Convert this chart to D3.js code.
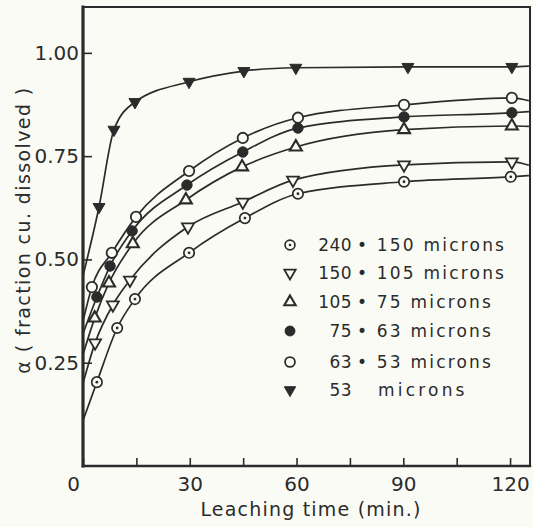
<!DOCTYPE html>
<html>
<head>
<meta charset="utf-8">
<script src="https://cdn.jsdelivr.net/npm/d3@7"></script>
<style>
  html, body { margin: 0; padding: 0; background: #fbfbf6; }
  svg { display: block; }
  text { font-family: "DejaVu Sans", sans-serif; fill: #2b2b2b; }
</style>
</head>
<body>
<svg id="chart" width="533" height="527"></svg>
<script>
// Leaching of copper: fraction dissolved vs. time for six particle-size fractions
const sizeUpper = [240, 150, 105, 75, 63, 53];
const sizeLower = [150, 105, 75, 63, 53, null];
const markerKinds = ["dotCircle", "triDownOpen", "triUpOpen", "circleFilled", "circleOpen", "triDownFilled"];

// leaching time (min) and fraction dissolved for each size fraction
const time_240_150 = [3.9, 9.6, 14.6, 29.8, 45.5, 60.4, 90.2, 120.2];
const alpha_240_150 = [0.203, 0.334, 0.404, 0.516, 0.600, 0.659, 0.688, 0.700];
const time_150_105 = [3.4, 8.4, 13.2, 29.5, 44.9, 59.0, 90.2, 120.5];
const alpha_150_105 = [0.298, 0.390, 0.450, 0.579, 0.639, 0.692, 0.729, 0.736];
const time_105_75 = [3.3, 7.3, 14.0, 28.9, 44.7, 59.8, 90.2, 120.5];
const alpha_105_75 = [0.358, 0.443, 0.538, 0.644, 0.724, 0.772, 0.814, 0.823];
const time_75_63 = [3.9, 7.6, 13.8, 29.2, 44.9, 60.4, 90.2, 120.5];
const alpha_75_63 = [0.409, 0.484, 0.569, 0.680, 0.760, 0.818, 0.845, 0.855];
const time_63_53 = [2.5, 8.1, 14.9, 29.8, 44.9, 60.4, 90.2, 120.5];
const alpha_63_53 = [0.433, 0.516, 0.603, 0.714, 0.794, 0.843, 0.874, 0.891];
const time_53 = [4.5, 8.7, 14.6, 29.8, 45.2, 59.8, 91.3, 120.5];
const alpha_53 = [0.627, 0.814, 0.881, 0.930, 0.956, 0.964, 0.966, 0.966];

// where each fitted curve leaves the ordinate and where it meets the right frame
const curveStartAlpha = [0.11, 0.20, 0.27, 0.32, 0.35, 0.46];
const curveEndAlpha = [0.703, 0.728, 0.822, 0.858, 0.884, 0.968];

const xTicks = [0, 15, 30, 45, 60, 75, 90, 105, 120];
const xTickLabels = [0, 30, 60, 90, 120];
const yTicks = [0.25, 0.50, 0.75, 1.00];

const times = [time_240_150, time_150_105, time_105_75, time_75_63, time_63_53, time_53];
const alphas = [alpha_240_150, alpha_150_105, alpha_105_75, alpha_75_63, alpha_63_53, alpha_53];

const series = sizeUpper.map((u, i) => ({
  upper: u,
  lower: sizeLower[i],
  kind: markerKinds[i],
  points: times[i].map((t, j) => ({ t, a: alphas[i][j] })),
  start: curveStartAlpha[i],
  end: curveEndAlpha[i]
}));

const ink = "#2b2b2b";
const paper = "#fbfbf6";
const svg = d3.select("#chart");
svg.append("rect").attr("width", 533).attr("height", 527).attr("fill", paper);

const plotLeft = 83, plotRight = 530, plotTop = 7, plotBottom = 466;
const xMax = 125.6, yMax = 1.111;
const x = d3.scaleLinear().domain([0, xMax]).range([plotLeft, plotRight]);
const y = d3.scaleLinear().domain([0, yMax]).range([plotBottom, plotTop]);

// axes with inward ticks
const xAxis = d3.axisBottom(x)
  .tickValues(xTicks)
  .tickSizeInner(-8).tickSizeOuter(0).tickPadding(11)
  .tickFormat(d => xTickLabels.includes(d) ? d : "");
const gx = svg.append("g").attr("transform", `translate(0,${plotBottom})`).call(xAxis);
gx.select(".domain").remove();
gx.selectAll(".tick line").attr("stroke", ink).attr("stroke-width", 1.6);
gx.selectAll(".tick text").attr("font-size", 20).attr("fill", ink).attr("font-family", "DejaVu Sans")
  .attr("dx", d => d === 0 ? -10 : 0);

const yAxis = d3.axisLeft(y)
  .tickValues(yTicks)
  .tickSizeInner(-9).tickSizeOuter(0).tickPadding(4)
  .tickFormat(d3.format(".2f"));
const gy = svg.append("g").attr("transform", `translate(${plotLeft},0)`).call(yAxis);
gy.select(".domain").remove();
gy.selectAll(".tick line").attr("stroke", ink).attr("stroke-width", 1.6);
gy.selectAll(".tick text").attr("font-size", 20).attr("fill", ink).attr("font-family", "DejaVu Sans");

// frame
const frame = svg.append("g").attr("stroke", ink).attr("stroke-linecap", "square");
frame.append("line").attr("x1", plotLeft).attr("x2", plotLeft).attr("y1", plotTop).attr("y2", plotBottom).attr("stroke-width", 3.2);
frame.append("line").attr("x1", plotLeft).attr("x2", plotRight).attr("y1", plotBottom).attr("y2", plotBottom).attr("stroke-width", 2.4);
frame.append("line").attr("x1", plotLeft).attr("x2", plotRight).attr("y1", plotTop).attr("y2", plotTop).attr("stroke-width", 2);
frame.append("line").attr("x1", plotRight).attr("x2", plotRight).attr("y1", plotTop).attr("y2", plotBottom).attr("stroke-width", 2);

// axis titles
svg.append("text")
  .attr("x", 311).attr("y", 516)
  .attr("text-anchor", "middle").attr("font-size", 19).attr("letter-spacing", 1.2)
  .text("Leaching time (min.)");
svg.append("text")
  .attr("transform", "translate(30,230) rotate(-90)")
  .attr("text-anchor", "middle").attr("font-size", 19).attr("letter-spacing", 1.4)
  .text("α ( fraction cu. dissolved )");

// curves
const line = d3.line().x(d => x(d.t)).y(d => y(d.a)).curve(d3.curveMonotoneX);
const plot = svg.append("g");
series.forEach(s => {
  const pts = [{ t: 0, a: s.start }, ...s.points, { t: xMax - 0.3, a: s.end }];
  plot.append("path").datum(pts).attr("d", line)
    .attr("fill", "none").attr("stroke", ink).attr("stroke-width", 1.7);
});

// markers
const triArea = 62, circR = 5.2;
function drawMarker(g, kind, cx, cy, scale = 1) {
  const m = g.append("g").attr("transform", `translate(${cx},${cy})`);
  const tri = d3.symbol().type(d3.symbolTriangle).size(triArea * scale * scale);
  if (kind === "dotCircle") {
    m.append("circle").attr("r", circR * scale).attr("fill", paper).attr("stroke", ink).attr("stroke-width", 1.7);
    m.append("circle").attr("r", 1.4 * scale).attr("fill", ink);
  } else if (kind === "circleOpen") {
    m.append("circle").attr("r", circR * scale).attr("fill", paper).attr("stroke", ink).attr("stroke-width", 1.8);
  } else if (kind === "circleFilled") {
    m.append("circle").attr("r", circR * scale).attr("fill", ink).attr("stroke", ink).attr("stroke-width", 1);
  } else if (kind === "triUpOpen") {
    m.append("path").attr("d", tri()).attr("fill", paper).attr("stroke", ink).attr("stroke-width", 2.1);
  } else if (kind === "triDownOpen") {
    m.append("path").attr("d", tri()).attr("transform", "rotate(180)").attr("fill", paper).attr("stroke", ink).attr("stroke-width", 1.8);
  } else if (kind === "triDownFilled") {
    m.append("path").attr("d", tri()).attr("transform", "rotate(180)").attr("fill", ink).attr("stroke", ink).attr("stroke-width", 1);
  }
}
series.forEach(s => {
  s.points.forEach(p => drawMarker(plot, s.kind, x(p.t), y(p.a)));
});

// legend
const legend = svg.append("g");
const legendRows = [245, 273, 302, 331, 362, 390];
series.forEach((s, i) => {
  const cy = legendRows[i];
  drawMarker(legend, s.kind, 290, cy, 0.95);
  legend.append("text").attr("x", 352).attr("y", cy).attr("dy", "0.36em")
    .attr("text-anchor", "end").attr("font-size", 17).attr("letter-spacing", 0.4)
    .text(s.upper);
  legend.append("text").attr("x", s.lower ? 357 : 378).attr("y", cy).attr("dy", "0.36em")
    .attr("font-size", 17).attr("letter-spacing", s.lower ? 2.2 : 3.2)
    .text(s.lower ? `• ${s.lower} microns` : "microns");
});
</script>
</body>
</html>
